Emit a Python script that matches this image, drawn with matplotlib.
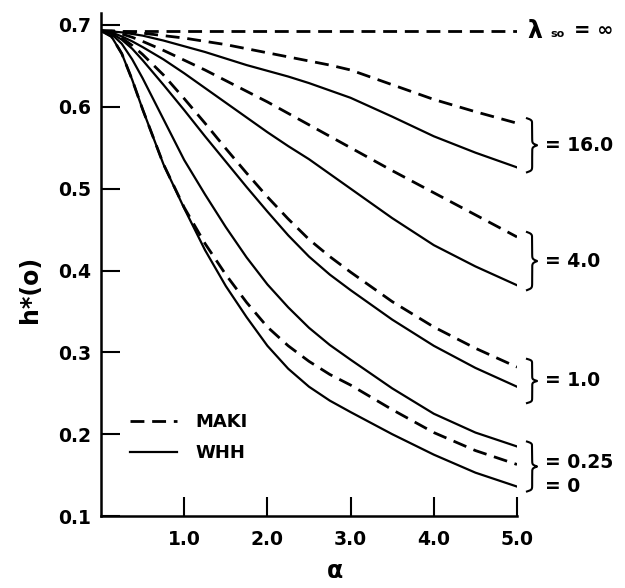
import numpy as np
import matplotlib.pyplot as plt

# h*(0) vs alpha, Maki (dashed) and WHH (solid) for several lambda_so
alpha = [0.0, 0.125, 0.25, 0.375, 0.5, 0.75, 1.0, 1.25, 1.5, 1.75, 2.0, 2.25, 2.5, 2.75,
         3.0, 3.5, 4.0, 4.5, 5.0]

alpha_flat = [0.0, 5.0]
maki_inf = [0.693, 0.693]

maki_16 = [0.693, 0.693, 0.692, 0.691, 0.690, 0.687, 0.684, 0.680, 0.676, 0.671, 0.666, 0.661,
           0.656, 0.651, 0.645, 0.627, 0.609, 0.594, 0.580]
whh_16 = [0.693, 0.692, 0.691, 0.689, 0.687, 0.681, 0.674, 0.667, 0.659, 0.651, 0.644, 0.637,
          0.629, 0.620, 0.611, 0.588, 0.564, 0.544, 0.526]
maki_4 = [0.693, 0.692, 0.689, 0.685, 0.680, 0.669, 0.657, 0.645, 0.632, 0.619, 0.606, 0.592,
          0.578, 0.564, 0.550, 0.522, 0.495, 0.468, 0.441]
whh_4 = [0.693, 0.691, 0.686, 0.680, 0.673, 0.658, 0.641, 0.623, 0.605, 0.587, 0.569, 0.552,
         0.536, 0.518, 0.500, 0.464, 0.431, 0.405, 0.382]
maki_1 = [0.693, 0.690, 0.684, 0.675, 0.664, 0.639, 0.610, 0.580, 0.549, 0.519, 0.490, 0.463,
          0.438, 0.417, 0.398, 0.362, 0.331, 0.305, 0.282]
whh_1 = [0.693, 0.690, 0.682, 0.671, 0.657, 0.627, 0.596, 0.564, 0.533, 0.502, 0.472, 0.443,
         0.417, 0.395, 0.376, 0.340, 0.308, 0.281, 0.258]
whh_025 = [0.693, 0.689, 0.677, 0.658, 0.635, 0.585, 0.535, 0.493, 0.453, 0.416, 0.383, 0.355,
           0.330, 0.309, 0.291, 0.256, 0.225, 0.202, 0.185]
maki_025 = [0.693, 0.686, 0.665, 0.633, 0.597, 0.530, 0.477, 0.433, 0.395, 0.361, 0.331, 0.308,
            0.289, 0.273, 0.260, 0.230, 0.202, 0.180, 0.163]
whh_0 = [0.693, 0.686, 0.665, 0.633, 0.597, 0.530, 0.476, 0.425, 0.381, 0.343, 0.308, 0.280,
         0.258, 0.241, 0.227, 0.200, 0.175, 0.153, 0.136]

xtick_vals = [1, 2, 3, 4, 5]
xtick_labels = ['1.0', '2.0', '3.0', '4.0', '5.0']
ytick_vals = [0.1, 0.2, 0.3, 0.4, 0.5, 0.6, 0.7]
ytick_labels = ['0.1', '0.2', '0.3', '0.4', '0.5', '0.6', '0.7']

plt.rcParams['font.family'] = ['DejaVu Sans']
plt.rcParams['font.weight'] = 'bold'

fig = plt.figure(figsize=(6.25, 5.88), dpi=100)
ax = fig.add_axes([0.1616, 0.1224, 0.6656, 0.856])

dash_kw = dict(color='black', lw=2.0, dashes=(5.0, 2.8))
solid_kw = dict(color='black', lw=1.6)

ax.plot(alpha_flat, maki_inf, **dash_kw)
ax.plot(alpha, maki_16, label='MAKI', **dash_kw)
ax.plot(alpha, whh_16, label='WHH', **solid_kw)
ax.plot(alpha, maki_4, **dash_kw)
ax.plot(alpha, whh_4, **solid_kw)
ax.plot(alpha, maki_1, **dash_kw)
ax.plot(alpha, whh_1, **solid_kw)
ax.plot(alpha, whh_025, **solid_kw)
ax.plot(alpha, maki_025, **dash_kw)
ax.plot(alpha, whh_0, **solid_kw)

ax.set_xlim(0, 5)
ax.set_ylim(0.1, 0.715)
ax.spines['top'].set_visible(False)
ax.spines['right'].set_visible(False)
ax.spines['left'].set_linewidth(1.8)
ax.spines['bottom'].set_linewidth(1.8)

ax.set_xticks(xtick_vals)
ax.set_xticklabels(xtick_labels)
ax.set_yticks(ytick_vals)
ax.set_yticklabels(ytick_labels)
ax.tick_params(axis='both', direction='in', length=14, width=1.5, labelsize=13.5)
ax.tick_params(axis='x', pad=10)
ax.tick_params(axis='y', pad=7)

ax.set_ylabel('h*(o)', fontsize=17, fontweight='bold')
ax.yaxis.set_label_coords(-0.142, 0.45)
ax.set_xlabel('α', fontsize=17, fontweight='bold')
ax.xaxis.set_label_coords(0.5625, -0.085)

leg = ax.legend(loc='upper left', bbox_to_anchor=(0.07, 0.205), frameon=False,
                fontsize=13, handlelength=2.6, handletextpad=1.0, labelspacing=0.75,
                borderpad=0, borderaxespad=0)


def brace(ax, lo, hi, x0=5.12, w=0.12):
    # curly brace from lo to hi (data y), opening to the left
    s = np.linspace(0, 1, 200)
    half = np.where(s < 0.5, s, 1 - s)
    beta = 60.0
    f = 1 / (1 + np.exp(-beta * half)) + 1 / (1 + np.exp(-beta * (half - 0.5)))
    f = (f - f.min()) / (f.max() - f.min())
    ax.plot(x0 + w * f, lo + (hi - lo) * s, color='black', lw=1.5, clip_on=False)


label_kw = dict(fontsize=13.5, fontweight='bold', va='center', ha='left')

brace(ax, whh_16[-1] - 0.006, maki_16[-1] + 0.006)
ax.text(5.34, (whh_16[-1] + maki_16[-1]) / 2, '= 16.0', **label_kw)
brace(ax, whh_4[-1] - 0.006, maki_4[-1] + 0.006)
ax.text(5.34, (whh_4[-1] + maki_4[-1]) / 2, '= 4.0', **label_kw)
brace(ax, whh_1[-1] - 0.02, maki_1[-1] + 0.01)
ax.text(5.34, (whh_1[-1] + maki_1[-1]) / 2 - 0.005, '= 1.0', **label_kw)
brace(ax, whh_0[-1] - 0.006, whh_025[-1] + 0.006)
ax.text(5.34, maki_025[-1] + 0.003, '= 0.25', **label_kw)
ax.text(5.34, whh_0[-1], '= 0', **label_kw)

ax.text(5.12, maki_inf[-1], 'λ', fontsize=17, fontweight='bold', va='center', ha='left')
ax.text(5.40, maki_inf[-1] - 0.004, 'so', fontsize=8, fontweight='bold', va='center', ha='left')
ax.text(5.68, maki_inf[-1], '= ∞', fontsize=14, fontweight='bold', va='center', ha='left')

fig.savefig('out.png', dpi=100)
